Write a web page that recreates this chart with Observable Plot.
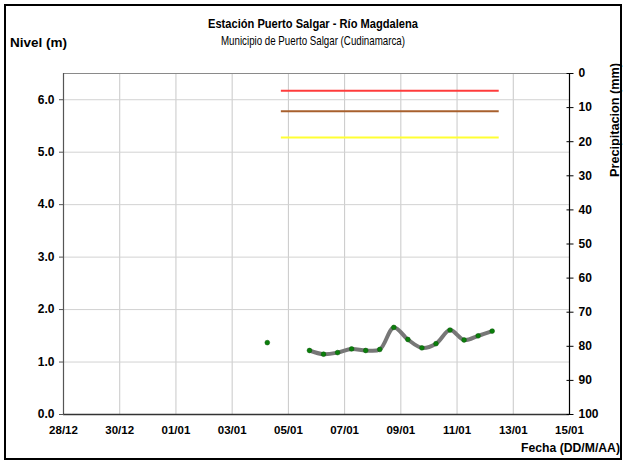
<!DOCTYPE html>
<html><head><meta charset="utf-8">
<script src="https://cdn.jsdelivr.net/npm/d3@7"></script>
<script src="https://cdn.jsdelivr.net/npm/@observablehq/plot@0.6"></script>
<style>body{margin:0;background:#fff} svg{display:block}</style>
</head><body><div id="chart"></div>
<script>
// Level observations (every 12 h), null = no data
const times = [
  "2014-01-04T06:00","2014-01-04T18:00","2014-01-05T06:00","2014-01-05T18:00",
  "2014-01-06T06:00","2014-01-06T18:00","2014-01-07T06:00","2014-01-07T18:00",
  "2014-01-08T06:00","2014-01-08T18:00","2014-01-09T06:00","2014-01-09T18:00",
  "2014-01-10T06:00","2014-01-10T18:00","2014-01-11T06:00","2014-01-11T18:00",
  "2014-01-12T06:00"
];
const levels = [1.37, null, null, 1.22, 1.15, 1.18, 1.25, 1.22, 1.24, 1.66, 1.43, 1.27, 1.35, 1.61, 1.42, 1.50, 1.59];

// Alert thresholds
const thresholdNames = ["Alerta roja", "Alerta naranja", "Alerta amarilla"];
const thresholdValues = [6.17, 5.78, 5.28];
const thresholdColors = ["#ff3c3c", "#a8602e", "#ffff33"];
const thresholdStart = "2014-01-04T18:00";
const thresholdEnd = "2014-01-12T12:00";

// Axes
const xDomain = ["2013-12-28T00:00", "2014-01-15T00:00"];
const xTicks = ["2013-12-28","2013-12-30","2014-01-01","2014-01-03","2014-01-05","2014-01-07","2014-01-09","2014-01-11","2014-01-13","2014-01-15"];
const yDomain = [0, 6.5];
const yTicks = [0, 1, 2, 3, 4, 5, 6];
const precipDomain = [0, 100];
const precipTicks = [0, 10, 20, 30, 40, 50, 60, 70, 80, 90, 100];

const titleText = "Estación Puerto Salgar - Río Magdalena";
const subtitleText = "Municipio de Puerto Salgar (Cudinamarca)";
const yLabelText = "Nivel (m)";
const y2LabelText = "Precipitacion (mm)";
const xLabelText = "Fecha (DD/M/AA)";

const parse = s => new Date(s + (s.length === 10 ? "T00:00" : "") + "Z");
const series = times.map((t, i) => ({date: parse(t), level: levels[i]}));
const points = series.filter(d => d.level != null);
const thresholds = thresholdNames.map((n, i) => ({name: n, value: thresholdValues[i], color: thresholdColors[i],
  start: parse(thresholdStart), end: parse(thresholdEnd)}));
const xTickDates = xTicks.map(parse);
const xDom = xDomain.map(parse);
// precipitation axis is inverted: 0 at top, 100 at bottom
const p2y = p => yDomain[1] * (1 - (p - precipDomain[0]) / (precipDomain[1] - precipDomain[0]));
const y2p = y => precipDomain[0] + (1 - y / yDomain[1]) * (precipDomain[1] - precipDomain[0]);
const precipPos = precipTicks.map(p2y);

const FONT = "'Liberation Sans', Arial, sans-serif";

const chart = Plot.plot({
  width: 626, height: 464,
  marginLeft: 63, marginRight: 57, marginTop: 73, marginBottom: 50,
  style: {fontFamily: FONT, fontSize: "12px", fontWeight: "bold", color: "#000", background: "#fff"},
  x: {type: "utc", domain: xDom},
  y: {domain: yDomain},
  marks: [
    Plot.gridX(xTickDates, {stroke: "#c8c8c8", strokeOpacity: 1}),
    Plot.gridY(yTicks, {stroke: "#d2d2d2", strokeOpacity: 1}),
    Plot.ruleY([yDomain[1]], {stroke: "#8a8a8a", strokeWidth: 1.2}),
    Plot.ruleX([xDom[0]], {stroke: "#555", strokeWidth: 1.2}),
    Plot.ruleY([yDomain[0]], {stroke: "#333", strokeWidth: 1.3}),
    Plot.ruleX([xDom[1]], {stroke: "#000", strokeWidth: 1.2}),
    Plot.axisY(yTicks, {anchor: "left", tickSize: 5, dx: 1, tickPadding: 5, fontSize: 12, tickFormat: d3.format(".1f"), label: null, stroke: "#555"}),
    Plot.axisY(precipPos, {anchor: "right", tickSize: 7, dx: -3.5, tickFormat: () => "", label: null, stroke: "#000"}),
    Plot.axisY(precipPos, {anchor: "right", tickSize: 0, tickPadding: 9, fontSize: 12, tickFormat: d => String(Math.round(y2p(d))), label: null}),
    Plot.axisX(xTickDates, {tickSize: 0, tickPadding: 11, fontSize: 11.5, tickFormat: d3.utcFormat("%d/%m"), label: null}),
    Plot.ruleY(thresholds, {y: "value", x1: "start", x2: "end", stroke: "color", strokeWidth: 2}),
    Plot.line(series, {x: "date", y: "level", stroke: "#777", strokeWidth: 4, curve: "catmull-rom"}),
    Plot.dot(points, {x: "date", y: "level", fill: "#0a7f0a", stroke: "#0a5a0a", strokeWidth: 0.5, r: 2.4})
  ]
});

const svg = d3.select(chart);
svg.append("rect").attr("x", 5).attr("y", 5).attr("width", 616).attr("height", 454)
  .attr("fill", "none").attr("stroke", "#000").attr("stroke-width", 2);
svg.append("text").attr("x", 313).attr("y", 28).attr("text-anchor", "middle")
  .attr("textLength", 210).attr("lengthAdjust", "spacingAndGlyphs")
  .style("font-size", "13px").style("font-weight", "bold").text(titleText);
svg.append("text").attr("x", 313).attr("y", 45).attr("text-anchor", "middle")
  .attr("textLength", 184).attr("lengthAdjust", "spacingAndGlyphs")
  .style("font-size", "13px").style("font-weight", "normal").text(subtitleText);
svg.append("text").attr("x", 10).attr("y", 47).attr("text-anchor", "start")
  .attr("textLength", 57).attr("lengthAdjust", "spacingAndGlyphs")
  .style("font-size", "12px").text(yLabelText);
svg.append("text").attr("transform", "translate(619,120) rotate(-90)").attr("text-anchor", "middle")
  .attr("textLength", 114).attr("lengthAdjust", "spacingAndGlyphs")
  .style("font-size", "12px").text(y2LabelText);
svg.append("text").attr("x", 620).attr("y", 452).attr("text-anchor", "end")
  .attr("textLength", 99).attr("lengthAdjust", "spacingAndGlyphs")
  .style("font-size", "12px").text(xLabelText);

document.getElementById("chart").appendChild(chart);
</script>
</body></html>
